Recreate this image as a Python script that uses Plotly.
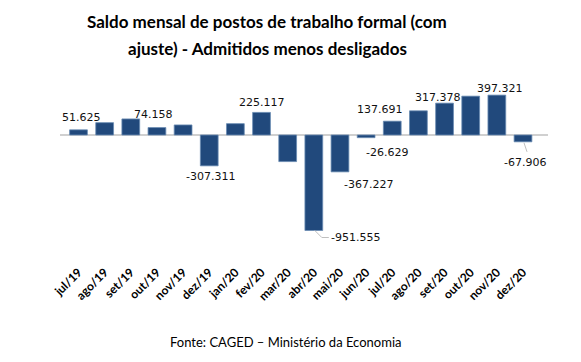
import plotly.graph_objects as go

months = ["jul/19", "ago/19", "set/19", "out/19", "nov/19", "dez/19", "jan/20", "fev/20",
          "mar/20", "abr/20", "mai/20", "jun/20", "jul/20", "ago/20", "set/20", "out/20",
          "nov/20", "dez/20"]
saldo = [51625, 123000, 160000, 74158, 100000, -307311, 113000, 225117,
         -265000, -951555, -367227, -26629, 137691, 241000, 317378, 387000,
         397321, -67906]
labels = {"jul/19": "51.625", "out/19": "74.158", "dez/19": "-307.311", "fev/20": "225.117",
          "abr/20": "-951.555", "mai/20": "-367.227", "jun/20": "-26.629", "jul/20": "137.691",
          "set/20": "317.378", "nov/20": "397.321", "dez/20": "-67.906"}

# label pixel offsets from the end of each bar
offsets = {"jul/19": (3, 12), "out/19": (-3, 13), "dez/19": (1, -11), "fev/20": (0, 10),
           "abr/20": (42, -7), "mai/20": (29, -13), "jun/20": (21, -15), "jul/20": (-12, 12),
           "set/20": (-7, 6), "nov/20": (3, 7), "dez/20": (2, -21)}

# page body adds an 8px margin; compensate
OFF = 8
FW, FH = 581, 362
L, R, T, B = 60 - OFF, 548 - OFF, 70 - OFF, 262 - OFF
W, H = R - L, B - T

def px(xp):
    return (xp - OFF - L) / W

def py(yp):
    return (B - (yp - OFF)) / H

fig = go.Figure()
fig.add_trace(go.Bar(x=months, y=saldo, marker=dict(color="#21497C",
                     line=dict(color="#6a8bb3", width=0.8)), hoverinfo="skip"))

for m, txt in labels.items():
    v = saldo[months.index(m)]
    dx, dy = offsets[m]
    fig.add_annotation(x=m, y=v, text=txt, showarrow=False, xshift=dx, yshift=dy,
                       xanchor="center", yanchor="middle",
                       font=dict(family="DejaVu Sans", size=11, color="#111111"))

# leader lines
lead_col = "#bfbfbf"
ia = months.index("abr/20")
fig.add_shape(type="path", xref="x", yref="y", xsizemode="pixel", ysizemode="pixel",
              xanchor=ia, yanchor=saldo[ia], path="M 1,0 L 8,-7 L 15,-7",
              line=dict(color=lead_col, width=1))
idz = months.index("dez/20")
fig.add_shape(type="path", xref="x", yref="y", xsizemode="pixel", ysizemode="pixel",
              xanchor=idz, yanchor=saldo[idz], path="M 1,-1 L 4,-10",
              line=dict(color=lead_col, width=1))

fig.add_annotation(xref="paper", yref="paper", x=px(267), y=py(21), xanchor="center", yanchor="middle",
                   text="<b>Saldo mensal de postos de trabalho formal (com</b>", showarrow=False,
                   font=dict(family="Lato", size=17, color="#000"))
fig.add_annotation(xref="paper", yref="paper", x=px(267), y=py(48), xanchor="center", yanchor="middle",
                   text="<b>ajuste) - Admitidos menos desligados</b>", showarrow=False,
                   font=dict(family="Lato", size=17, color="#000"))
fig.add_annotation(xref="paper", yref="paper", x=px(286), y=py(342), xanchor="center", yanchor="middle",
                   text="Fonte: CAGED \u2013 Ministério da Economia", showarrow=False,
                   font=dict(family="Lato", size=13, color="#000"))

fig.update_layout(
    width=FW, height=FH, margin=dict(l=L, r=FW - R, t=T, b=FH - B, pad=0, autoexpand=False),
    paper_bgcolor="white", plot_bgcolor="white", showlegend=False, bargap=0.32,
    xaxis=dict(tickangle=-45, tickfont=dict(family="Lato", size=12, color="#000", weight="bold"),
               showgrid=False, showline=False, ticks="", automargin=False),
    yaxis=dict(range=[-1265400, 647660], visible=True, showgrid=False, showticklabels=False,
               zeroline=True, zerolinecolor="#d0d0d0", zerolinewidth=1.5, ticks="", automargin=False),
)
fig.write_html("out.html")
